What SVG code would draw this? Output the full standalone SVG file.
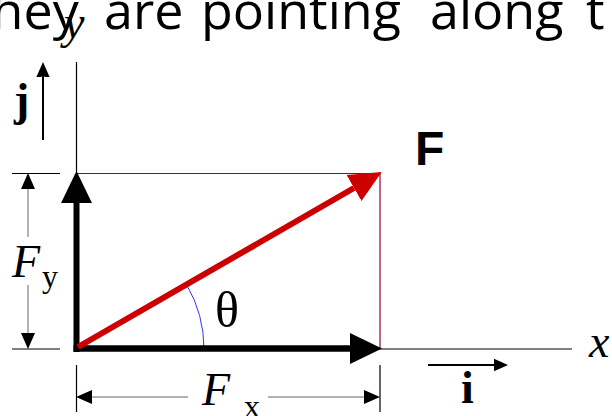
<svg xmlns="http://www.w3.org/2000/svg" width="612" height="416" viewBox="0 0 612 416">
<style>
.cap{font-family:"Open Sans","Noto Sans",sans-serif;font-size:52px;fill:#000}
.ser{font-family:"Liberation Serif","Times New Roman",serif;fill:#000}
.it{font-style:italic;font-size:46px}
.bd{font-weight:bold;font-size:46px}
.sub{font-size:32px}
.thin{stroke:#000;stroke-width:1.2;fill:none}
.rect{stroke:#990033;stroke-width:1.2;fill:none}
.dim{stroke:#999;stroke-width:1.5;fill:none}
</style>
<defs>
<marker id="hBlack" markerUnits="userSpaceOnUse" markerWidth="32" markerHeight="32" viewBox="0 -15 30 30" refX="0" refY="0" orient="auto"><path d="M0,-14.5L30,0L0,14.5Z" fill="#000"/></marker>
<marker id="hRed" markerUnits="userSpaceOnUse" markerWidth="32" markerHeight="32" viewBox="0 -15 30 30" refX="0" refY="0" orient="auto"><path d="M0,-14L30,0L0,14Z" fill="#cc0000"/></marker>
<marker id="hDim" markerUnits="userSpaceOnUse" markerWidth="18" markerHeight="16" viewBox="0 -8 16 16" refX="0" refY="0" orient="auto"><path d="M0,-7L16,0L0,7Z" fill="#000"/></marker>
<marker id="hUnit" markerUnits="userSpaceOnUse" markerWidth="16" markerHeight="18" viewBox="0 -9 15 18" refX="0" refY="0" orient="auto"><path d="M-3,-7.5L14,0L-3,7.5L0,0Z" fill="#000"/></marker>
</defs>
<g id="caption">
<text class="cap" x="-27" y="29">they</text>
<text class="cap" x="104" y="29">are</text>
<text class="cap" x="201" y="29">pointing</text>
<text class="cap" x="430" y="29">along</text>
<text class="cap" x="586" y="29">t</text>
</g>
<g id="connectors">
<line class="thin" x1="76.5" y1="62" x2="76.5" y2="349"/>
<line class="thin" x1="76" y1="349" x2="572" y2="349"/>
<line class="rect" x1="76" y1="173.5" x2="380" y2="173.5"/>
<line class="rect" x1="380" y1="173" x2="380" y2="349"/>
<line class="thin" x1="12" y1="173.5" x2="60" y2="173.5"/>
<line class="thin" x1="12" y1="349" x2="60" y2="349"/>
<line class="thin" x1="76.5" y1="365" x2="76.5" y2="412"/>
<line class="thin" x1="380" y1="365" x2="380" y2="412"/>
<line class="dim" x1="28" y1="237" x2="28" y2="189" marker-end="url(#hDim)"/>
<line class="dim" x1="28" y1="285" x2="28" y2="333" marker-end="url(#hDim)"/>
<line class="dim" x1="188" y1="397" x2="92" y2="397" marker-end="url(#hDim)"/>
<line class="dim" x1="268" y1="397" x2="364" y2="397" marker-end="url(#hDim)"/>
<path d="M204,349A128,128 0 0 0 186.8,285" stroke="#3333ff" stroke-width="1" fill="none"/>
<line x1="76.5" y1="352" x2="76.5" y2="203" stroke="#000" stroke-width="6" marker-end="url(#hBlack)"/>
<line x1="73.5" y1="348.5" x2="350" y2="348.5" stroke="#000" stroke-width="6.5" marker-end="url(#hBlack)"/>
<line x1="78" y1="347" x2="354" y2="188" stroke="#cc0000" stroke-width="6" marker-end="url(#hRed)"/>
<line x1="43" y1="140" x2="43" y2="76" stroke="#000" stroke-width="2" marker-end="url(#hUnit)"/>
<line x1="428" y1="365" x2="494" y2="365" stroke="#000" stroke-width="2" marker-end="url(#hUnit)"/>
</g>
<g id="label-y"><text class="ser it" x="64" y="38">y</text></g>
<g id="label-x"><text class="ser it" x="589" y="357">x</text></g>
<g id="label-j"><text class="ser bd" x="14" y="115">j</text></g>
<g id="label-i"><text class="ser bd" x="461" y="403">i</text></g>
<g id="label-F"><text x="415" y="165" style="font-family:'Liberation Sans',Arial,sans-serif;font-weight:bold;font-size:48px">F</text></g>
<g id="label-theta"><text class="ser" x="215" y="327" style="font-size:50px">θ</text></g>
<g id="label-Fy"><text class="ser it" x="12" y="277">F</text><text class="ser sub" x="42" y="287">y</text></g>
<g id="label-Fx"><text class="ser it" x="202" y="405">F</text><text class="ser sub" x="244" y="417">x</text></g>
</svg>
